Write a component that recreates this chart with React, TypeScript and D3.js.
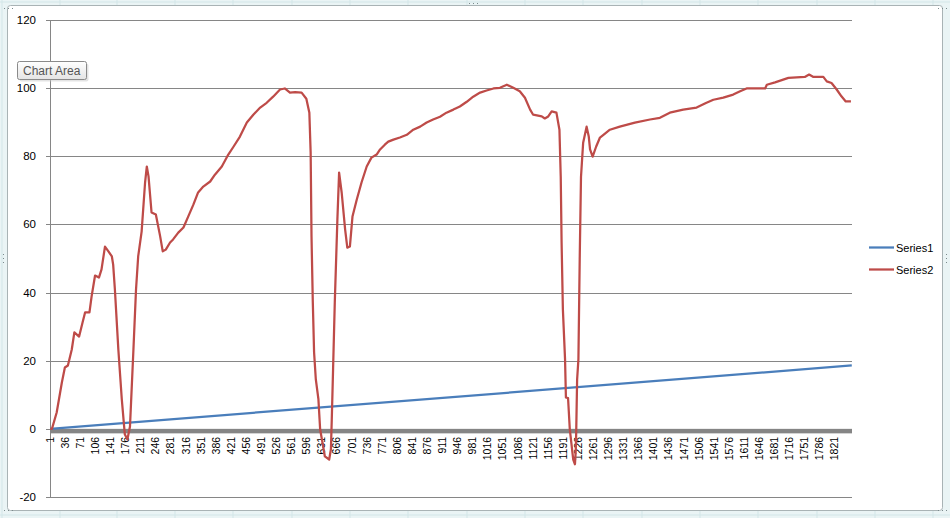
import * as d3 from 'd3';

// category axis: 1..1860, a label every 35 categories
const categoryCount = 1860;
const xTickLabels = [
  1, 36, 71, 106, 141, 176, 211, 246, 281, 316, 351, 386, 421, 456, 491, 526, 561, 596, 631, 666,
  701, 736, 771, 806, 841, 876, 911, 946, 981, 1016, 1051, 1086, 1121, 1156, 1191, 1226, 1261,
  1296, 1331, 1366, 1401, 1436, 1471, 1506, 1541, 1576, 1611, 1646, 1681, 1716, 1751, 1786, 1821,
];
const yTicks = [-20, 0, 20, 40, 60, 80, 100, 120];

const seriesNames = ['Series1', 'Series2'];
const seriesColors = ['#4a7ebb', '#be4b48'];

// [category, value]
const series1: [number, number][] = [
  [1, 0],
  [1860, 18.6],
];

const series2: [number, number][] = [
  [1, 0], [5, 0], [16, 4.8], [28, 13.6], [35, 18.0], [42, 18.6], [51, 23.3], [57, 28.3],
  [68, 27.1], [76, 31.2], [82, 34.2], [92, 34.2], [97, 38.9], [105, 45.0], [114, 44.4],
  [120, 46.8], [128, 53.5], [136, 52.1], [144, 50.6], [147, 48.2], [151, 40.9], [159, 23.3],
  [167, 8.7], [174, -1.6], [180, -3.1], [186, 0.7], [194, 23.3], [200, 40.9], [205, 50.6],
  [213, 57.9], [221, 72.3], [225, 77.0], [229, 74.1], [236, 63.5], [246, 62.9], [256, 56.5],
  [262, 52.1], [269, 52.6], [279, 54.7], [286, 55.6], [298, 57.6], [310, 59.1], [321, 62.3],
  [333, 65.8], [344, 69.4], [356, 71.1], [372, 72.6], [383, 74.6], [399, 77.0], [414, 80.5],
  [426, 82.8], [441, 85.8], [457, 89.9], [472, 92.2], [488, 94.3], [503, 95.7], [518, 97.5],
  [534, 99.6], [545, 99.9], [557, 98.7], [569, 98.8], [584, 98.7], [595, 96.9], [602, 92.8],
  [605, 81.1], [607, 56.5], [610, 37.2], [613, 22.4], [617, 14.5], [623, 8.7], [627, -0.1],
  [638, -8.1], [648, -9.0], [652, -6.0], [654, 2.8], [657, 17.4], [661, 37.2], [667, 61.4],
  [671, 75.2], [677, 69.3], [685, 58.5], [690, 53.2], [696, 53.5], [702, 62.3], [712, 67.3],
  [723, 72.3], [735, 77.0], [746, 79.6], [758, 80.5], [766, 82.0], [777, 83.4], [785, 84.3],
  [797, 84.9], [812, 85.5], [828, 86.3], [843, 87.8], [859, 88.7], [874, 89.9], [889, 90.8],
  [905, 91.6], [920, 92.8], [936, 93.7], [951, 94.6], [967, 96.0], [982, 97.5], [998, 98.7],
  [1013, 99.3], [1029, 99.9], [1044, 100.1], [1060, 101.0], [1075, 100.1], [1090, 99.1],
  [1102, 97.2], [1114, 93.7], [1121, 92.2], [1141, 91.7], [1148, 91.1], [1156, 91.7],
  [1164, 93.2], [1175, 92.8], [1182, 87.8], [1185, 74.0], [1187, 54.7], [1190, 35.0],
  [1195, 20.4], [1197, 9.2], [1202, 9.0], [1206, -0.1], [1214, -9.0], [1218, -10.4],
  [1220, -6.0], [1221, -0.1], [1223, 14.5], [1226, 20.4], [1229, 49.7], [1232, 74.0],
  [1237, 84.0], [1245, 88.7], [1250, 85.8], [1253, 82.0], [1259, 79.9], [1267, 82.8],
  [1276, 85.5], [1284, 86.3], [1299, 87.8], [1322, 88.7], [1357, 89.9], [1392, 90.8],
  [1415, 91.3], [1438, 92.8], [1469, 93.7], [1500, 94.3], [1523, 95.7], [1539, 96.6],
  [1562, 97.2], [1585, 98.1], [1601, 99.1], [1616, 99.9], [1659, 99.9], [1663, 101.0],
  [1682, 101.7], [1713, 103.0], [1751, 103.3], [1761, 104.0], [1771, 103.3], [1794, 103.3],
  [1802, 102.0], [1813, 101.5], [1825, 99.6], [1836, 97.6], [1846, 96.1], [1858, 96.1],
];

const width = 950;
const height = 518;
const plot = { left: 50, right: 852, top: 20, bottom: 497 };

const x = d3.scaleLinear().domain([0.5, categoryCount + 0.5]).range([plot.left, plot.right]);
const y = d3.scaleLinear().domain([-20, 120]).range([plot.bottom, plot.top]);

const line = d3
  .line<[number, number]>()
  .x((d) => x(d[0]))
  .y((d) => y(d[1]));

const sheetCols = [2, 60, 117, 175, 233, 292, 350, 408, 467, 525, 583, 642, 700, 758, 817, 875, 933];

const App = () => {
  const font = "'Liberation Sans', Arial, sans-serif";
  return (
    <svg
      width={width}
      height={height}
      style={{ position: 'absolute', left: 0, top: 0 }}
      fontFamily={font}
    >
      <defs>
        <linearGradient id='tip' x1='0' y1='0' x2='0' y2='1'>
          <stop offset='0%' stopColor='#ffffff' />
          <stop offset='100%' stopColor='#e4e4e4' />
        </linearGradient>
      </defs>
      {/* spreadsheet behind */}
      <rect x={0} y={0} width={width} height={height} fill='#eaf4f5' />
      {sheetCols.map((c) => (
        <line key={c} x1={c} x2={c} y1={0} y2={height} stroke='#d3e6e8' />
      ))}
      <line x1={0} x2={width} y1={2} y2={2} stroke='#d3e6e8' />
      <line x1={0} x2={width} y1={515} y2={515} stroke='#d3e6e8' />

      {/* chart area */}
      <rect x={7.5} y={5.5} width={935} height={505} rx={3} fill='#ffffff' stroke='#a9b3b5' />

      {/* gridlines */}
      {yTicks.map((t) => (
        <line key={t} x1={plot.left - 4} x2={plot.right} y1={Math.round(y(t)) + 0.5} y2={Math.round(y(t)) + 0.5} stroke='#868686' />
      ))}
      <line x1={plot.left + 0.5} x2={plot.left + 0.5} y1={plot.top} y2={plot.bottom} stroke='#868686' />

      {yTicks.map((t) => (
        <text key={t} x={36} y={y(t) + 4} textAnchor='end' fontSize={11.5} fill='#000'>
          {t}
        </text>
      ))}

      {/* dense category tick marks */}
      <rect x={plot.left} y={y(0)} width={plot.right - plot.left} height={4.5} fill='#858585' />

      {xTickLabels.map((k) => (
        <text
          key={k}
          transform={`translate(${x(k) + 3.5},${y(0) + 8}) rotate(-90)`}
          textAnchor='end'
          fontSize={10.5}
          fill='#000'
        >
          {k}
        </text>
      ))}

      <path d={line(series1) ?? ''} fill='none' stroke={seriesColors[0]} strokeWidth={2.25} />
      <path d={line(series2) ?? ''} fill='none' stroke={seriesColors[1]} strokeWidth={2.25} strokeLinejoin='round' />

      {/* legend */}
      {seriesNames.map((s, i) => (
        <g key={s} transform={`translate(869,${247.5 + i * 22})`}>
          <line x1={0} x2={25} y1={0} y2={0} stroke={seriesColors[i]} strokeWidth={2.25} />
          <text x={27} y={4} fontSize={11} fill='#000'>
            {s}
          </text>
        </g>
      ))}

      {/* chart area tooltip */}
      <rect x={17.5} y={61.5} width={69} height={18} rx={2} fill='#c8c8c8' transform='translate(2,2)' opacity={0.5} />
      <rect x={17.5} y={61.5} width={69} height={18} rx={2} fill='url(#tip)' stroke='#8a8a8a' />
      <text x={23} y={75} fontSize={12} fill='#555'>
        Chart Area
      </text>

      {/* selection handles */}
      {[
        [473, 3],
        [3, 258],
        [946, 258],
        [8, 8],
        [942, 510],
        [8, 510],
        [942, 8],
      ].map(([hx, hy], i) => (
        <g key={i} fill='#7a8a8c'>
          {[-2, 0, 2].map((o) => (
            <rect key={o} x={i === 1 || i === 2 ? hx : hx + o * 2} y={i === 1 || i === 2 ? hy + o * 2 : hy} width={1} height={1} />
          ))}
        </g>
      ))}
    </svg>
  );
};

export default App;
